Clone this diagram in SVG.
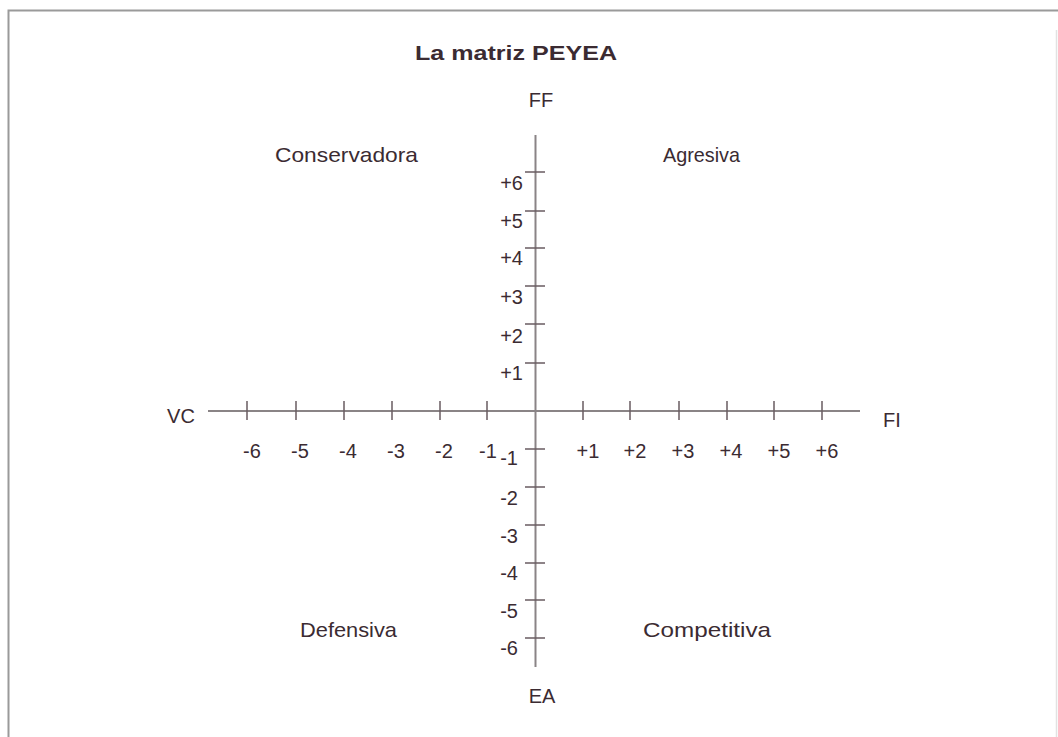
<svg xmlns="http://www.w3.org/2000/svg" width="1058" height="737" viewBox="0 0 1058 737">
<style>
text{font-family:"Liberation Sans",Arial,sans-serif;fill:#3b2b32}
.t{font-size:20px}
.q{font-size:21px}
.ax{stroke:#8a8486;stroke-width:2;fill:none}
.tk{stroke:#6a5c62;stroke-width:1.5;fill:none}
.r{text-anchor:end}
.m{text-anchor:middle}
</style>
<rect width="1058" height="737" fill="#fff"/>
<g id="frame">
<path d="M8.5 740 V10.5 H1058" fill="none" stroke="#9a9a9a" stroke-width="2"/>
<line x1="1056.5" y1="30" x2="1056.5" y2="737" stroke="#e2e2e2" stroke-width="1.5"/>
</g>
<text id="title" x="516" y="60" class="m" font-size="21" font-weight="bold" fill="#2a1a20" textLength="202" lengthAdjust="spacingAndGlyphs">La matriz PEYEA</text>
<g id="axes">
<line class="ax" x1="208" y1="411" x2="860" y2="411"/>
<line class="ax" x1="535.5" y1="135" x2="535.5" y2="667"/>
<g class="tk">
<path d="M247 401V420M296 401V420M344 401V420M392 401V420M440 401V420M487 401V420M583 401V420M630 401V420M679 401V420M727 401V420M774 401V420M822 401V420"/>
<path d="M525 172H545M525 211H545M525 248H545M525 286H545M525 324H545M525 363H545M525 449H545M525 487H545M525 525H545M525 563H545M525 600H545M525 638H545"/>
</g>
</g>
<g id="axis-labels" class="t">
<text x="541" y="107" class="m">FF</text>
<text x="542" y="703" class="m">EA</text>
<text x="181" y="423" class="m">VC</text>
<text x="892" y="427" class="m">FI</text>
</g>
<g id="quadrants" class="q">
<text x="275" y="162" textLength="143" lengthAdjust="spacingAndGlyphs">Conservadora</text>
<text x="663" y="162" textLength="77" lengthAdjust="spacingAndGlyphs">Agresiva</text>
<text x="300" y="637" textLength="97" lengthAdjust="spacingAndGlyphs">Defensiva</text>
<text x="643" y="637" textLength="128" lengthAdjust="spacingAndGlyphs">Competitiva</text>
</g>
<g id="x-labels" class="t m">
<text x="252" y="458" class="m">-6</text>
<text x="300" y="458" class="m">-5</text>
<text x="348" y="458" class="m">-4</text>
<text x="396" y="458" class="m">-3</text>
<text x="444" y="458" class="m">-2</text>
<text x="488" y="458" class="m">-1</text>
<text x="588" y="458" class="m">+1</text>
<text x="635" y="458" class="m">+2</text>
<text x="683" y="458" class="m">+3</text>
<text x="731" y="458" class="m">+4</text>
<text x="779" y="458" class="m">+5</text>
<text x="827" y="458" class="m">+6</text>
</g>
<g id="y-labels" class="t">
<text x="523" y="190" class="r">+6</text>
<text x="523" y="228" class="r">+5</text>
<text x="523" y="265" class="r">+4</text>
<text x="523" y="304" class="r">+3</text>
<text x="523" y="343" class="r">+2</text>
<text x="523" y="380" class="r">+1</text>
<text x="518" y="465" class="r">-1</text>
<text x="518" y="505" class="r">-2</text>
<text x="518" y="543" class="r">-3</text>
<text x="518" y="580" class="r">-4</text>
<text x="518" y="618" class="r">-5</text>
<text x="518" y="655" class="r">-6</text>
</g>
</svg>
